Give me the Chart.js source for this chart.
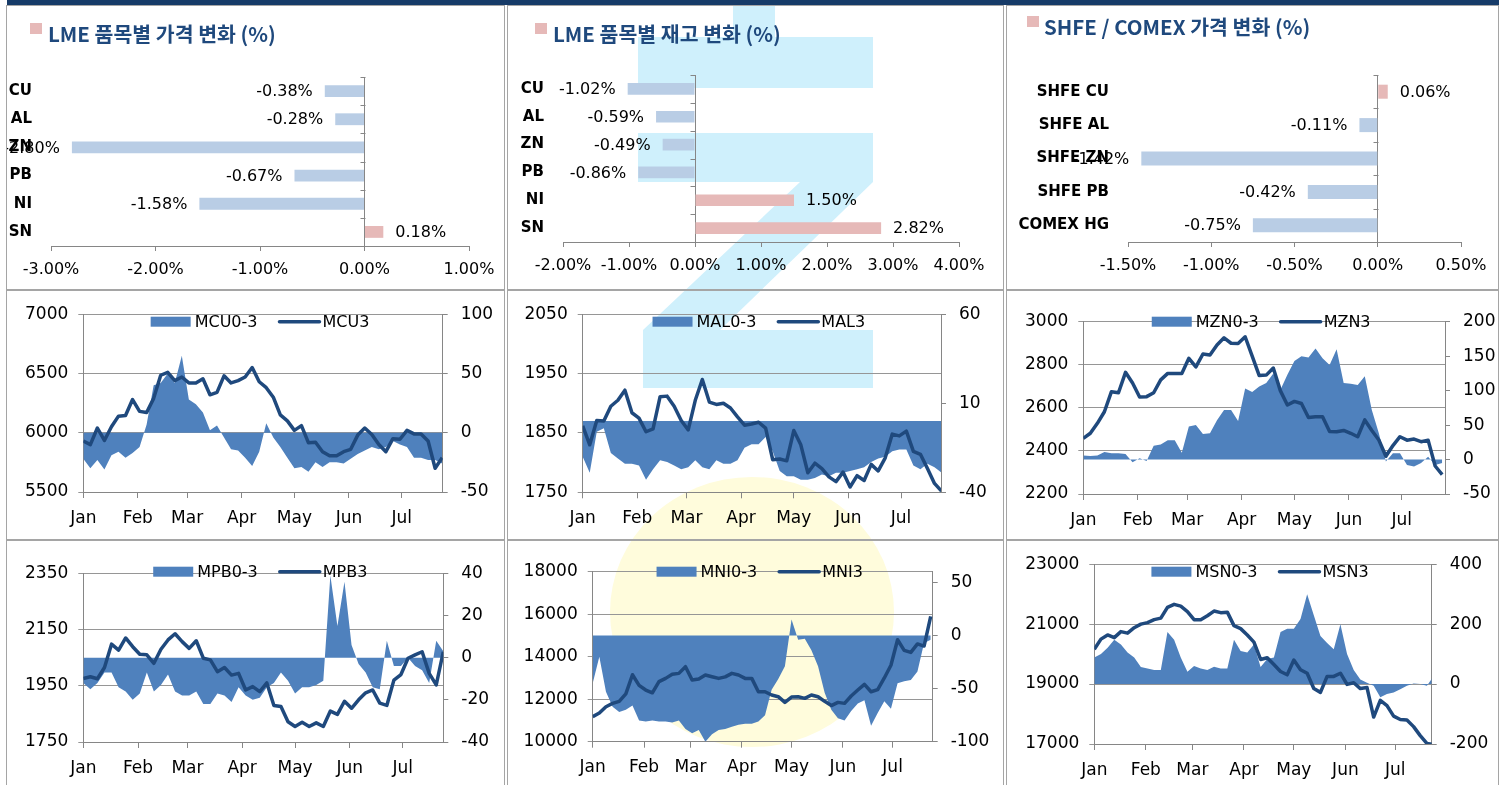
<!DOCTYPE html>
<html lang="ko">
<head>
<meta charset="utf-8">
<title>LME 품목별 동향</title>
<script src="https://cdn.jsdelivr.net/npm/chart.js@4.4.1/dist/chart.umd.min.js"></script>
<style>
  html, body { margin: 0; padding: 0; background: #fff; }
  body { width: 1504px; height: 785px; position: relative; overflow: hidden; }
  .topbar { position: absolute; left: 7px; top: 0; width: 1492px; height: 5px; background: #163b68; }
  .mark { position: absolute; background: #cff0fc; }
  .sun { position: absolute; left: 610px; top: 477px; width: 284px; height: 270px; border-radius: 50%; background: #fffcdc; }
  .panel { position: absolute; box-sizing: border-box; border: 1px solid #a5a5a5; }
  .panel canvas { position: absolute; left: 0; top: 0; }
</style>
</head>
<body>
<div class="topbar"></div>

<!-- faint logo behind the middle column -->
<div class="sun"></div>
<div class="mark" style="left:733px;top:5px;width:42px;height:32px"></div>
<div class="mark" style="left:638px;top:37px;width:235px;height:51px"></div>
<div class="mark" style="left:638px;top:133px;width:235px;height:49px"></div>
<div class="mark" style="left:643px;top:182px;width:230px;height:148px;clip-path:polygon(157px 0,230px 0,77px 148px,0 148px)"></div>
<div class="mark" style="left:643px;top:330px;width:230px;height:58px"></div>

<div class="panel" style="left:6px;top:5px;width:499px;height:285px"><canvas id="lmePrice" width="497" height="283"></canvas></div>
<div class="panel" style="left:507px;top:5px;width:497px;height:285px"><canvas id="lmeStock" width="495" height="283"></canvas></div>
<div class="panel" style="left:1006px;top:5px;width:493px;height:285px"><canvas id="shfePrice" width="491" height="283"></canvas></div>

<div class="panel" style="left:6px;top:290px;width:499px;height:250px"><canvas id="mcu" width="497" height="248"></canvas></div>
<div class="panel" style="left:507px;top:290px;width:497px;height:250px"><canvas id="mal" width="495" height="248"></canvas></div>
<div class="panel" style="left:1006px;top:290px;width:493px;height:250px"><canvas id="mzn" width="491" height="248"></canvas></div>

<div class="panel" style="left:6px;top:540px;width:499px;height:246px"><canvas id="mpb" width="497" height="244"></canvas></div>
<div class="panel" style="left:507px;top:540px;width:497px;height:246px"><canvas id="mni" width="495" height="244"></canvas></div>
<div class="panel" style="left:1006px;top:540px;width:493px;height:246px"><canvas id="msn" width="491" height="244"></canvas></div>

<script>
// ---- data ----
const metals = ['CU', 'AL', 'ZN', 'PB', 'NI', 'SN'];
const lmePriceChange = [-0.38, -0.28, -2.80, -0.67, -1.58, 0.18];
const lmeStockChange = [-1.02, -0.59, -0.49, -0.86, 1.50, 2.82];
const shfeNames = ['SHFE CU', 'SHFE AL', 'SHFE ZN', 'SHFE PB', 'COMEX HG'];
const shfeChange = [0.06, -0.11, -1.42, -0.42, -0.75];

// month axis (day of year where each month starts)
const monthStarts = [0, 31, 59, 90, 120, 151, 181];
const monthNames = ['Jan', 'Feb', 'Mar', 'Apr', 'May', 'Jun', 'Jul'];

// sample days (day of year) for the daily series
const days = [0, 4, 8, 12, 16, 20, 24, 28, 32, 36, 40, 44, 48, 52, 56, 60, 64, 68, 72, 76,
  80, 84, 88, 92, 96, 100, 104, 108, 112, 116, 120, 124, 128, 132, 136, 140, 144, 148, 152, 156,
  160, 164, 168, 172, 176, 180, 184, 188, 192, 196, 200, 204];

// 3M price (left axis) and cash-3M spread (right axis)
const mcu3 = [5930, 5900, 6040, 5935, 6050, 6140, 6145, 6280, 6180, 6170, 6290, 6485, 6510, 6440, 6470, 6420, 6420, 6455, 6320, 6340,
  6480, 6420, 6440, 6470, 6550, 6430, 6380, 6300, 6150, 6100, 6020, 6060, 5915, 5920, 5840, 5805, 5805, 5840, 5860, 5980,
  6040, 5985, 5900, 5840, 5950, 5945, 6020, 5990, 5990, 5930, 5700, 5790];
const mcuSpread = [-22, -30, -23, -31, -19, -16, -21, -17, -12, 7, 40, 42, 50, 42, 65, 28, 24, 17, 2, 6,
  -4, -14, -15, -21, -28, -16, 8, -4, -12, -21, -30, -29, -33, -25, -29, -25, -25, -26, -22, -18,
  -15, -12, -14, -12, -7, -10, -12, -21, -21, -23, -23, -26];

const mal3 = [1862, 1830, 1871, 1870, 1895, 1905, 1922, 1884, 1875, 1852, 1857, 1911, 1912, 1895, 1871, 1855, 1905, 1940, 1902, 1898,
  1900, 1892, 1877, 1863, 1865, 1868, 1858, 1805, 1806, 1803, 1854, 1830, 1783, 1799, 1790, 1776, 1768, 1784, 1759, 1778,
  1770, 1797, 1786, 1808, 1848, 1845, 1853, 1819, 1814, 1790, 1765, 1752];
const malSpread = [-20, -29, -6, -4, -18, -21, -24, -24, -25, -33, -27, -22, -23, -25, -27, -26, -22, -26, -27, -22,
  -24, -24, -22, -15, -13, -13, -9, -17, -28, -31, -31, -33, -33, -32, -30, -31, -29, -29, -28, -27,
  -26, -23, -21, -20, -17, -16, -16, -25, -27, -24, -26, -29];

const mzn3 = [2458, 2482, 2528, 2582, 2675, 2670, 2765, 2715, 2650, 2652, 2670, 2730, 2760, 2760, 2760, 2830, 2790, 2850, 2845, 2892,
  2925, 2900, 2899, 2930, 2840, 2750, 2752, 2785, 2680, 2613, 2630, 2620, 2555, 2559, 2559, 2490, 2489, 2495, 2482, 2466,
  2544, 2495, 2451, 2375, 2425, 2466, 2450, 2455, 2443, 2450, 2330, 2290];
const mznSpread = [6, 5, 6, 11, 9, 9, 8, -4, 2, -2, 20, 22, 28, 28, 10, 48, 50, 37, 38, 57,
  72, 72, 56, 103, 98, 106, 111, 125, 101, 123, 143, 150, 148, 161, 147, 137, 160, 111, 110, 108,
  121, 72, 38, -3, 9, 9, -8, -10, -5, 4, -8, -5];

const mpb3 = [1976, 1982, 1975, 2015, 2098, 2077, 2120, 2089, 2062, 2060, 2030, 2080, 2113, 2135, 2107, 2083, 2110, 2048, 2042, 2000,
  2015, 1988, 1994, 1935, 1947, 1929, 1960, 1880, 1876, 1822, 1805, 1820, 1805, 1818, 1805, 1860, 1848, 1895, 1870, 1900,
  1925, 1935, 1888, 1880, 1970, 1990, 2048, 2060, 2071, 1994, 1953, 2071];
const mpbSpread = [-12, -15, -12, -7, -7, -14, -16, -20, -17, -7, -16, -13, -8, -16, -18, -18, -16, -22, -22, -17,
  -18, -21, -14, -18, -20, -19, -14, -12, -7, -11, -17, -14, -14, -13, -11, 39, 15, 36, 6, -3,
  -7, -14, -15, 8, -4, -4, 0, -4, -6, -12, 8, 3];

const mni3 = [11176, 11350, 11647, 11804, 11900, 12250, 13150, 12650, 12431, 12300, 12824, 12980, 13170, 13216, 13530, 12902, 12950, 13137, 13059, 12980,
  13050, 13216, 13137, 12980, 12980, 12353, 12353, 12196, 12118, 11850, 12100, 12118, 12039, 12200, 12118, 11900, 11700, 11850, 11804, 12150,
  12431, 12700, 12350, 12450, 13000, 13600, 14800, 14300, 14200, 14600, 14500, 15900];
const mniSpread = [-45, -20, -53, -67, -72, -70, -66, -80, -81, -80, -81, -81, -82, -80, -88, -92, -89, -100, -93, -89,
  -88, -86, -84, -83, -83, -81, -75, -51, -41, -29, 15, -4, -3, -14, -29, -54, -70, -78, -80, -71,
  -64, -61, -85, -73, -62, -69, -45, -43, -42, -34, -7, -4];

const msn3 = [20160, 20500, 20640, 20550, 20750, 20700, 20880, 21000, 21050, 21150, 21200, 21560, 21660, 21600, 21420, 21150, 21150, 21280, 21436, 21383,
  21400, 20950, 20850, 20638, 20400, 19820, 19880, 19650, 19420, 19309, 19800, 19480, 19362, 18850, 18723, 19255, 19255, 19362, 18989, 19043,
  18850, 18883, 17900, 18457, 18280, 17930, 17819, 17800, 17580, 17280, 17020, 16980];
const msnSpread = [89, 100, 121, 148, 132, 105, 89, 57, 52, 47, 47, 174, 148, 89, 41, 60, 52, 47, 58, 52,
  52, 148, 110, 105, 132, 57, 84, 89, 174, 185, 185, 217, 300, 230, 160, 137, 116, 200, 100, 47,
  15, 4, -6, -44, -33, -28, -17, -6, 2, 0, -6, 26];

// ---- styles ----
const GRID = '#969696';
const AXIS = '#868686';
const AREA = '#4f81bd';
const LINE = '#1f497d';
const NEG = '#b9cde5';
const POS = '#e6b9b8';
const TITLE_BLUE = '#1f497d';

Chart.defaults.font.family = "'DejaVu Sans', sans-serif";
Chart.defaults.color = '#000';

// bar end labels, zero-line ticks and the caption with its marker
function barExtras(origin, caption) {
  return {
    id: 'barExtras',
    afterDatasetsDraw(chart) {
      const c = chart.ctx;
      const xs = chart.scales.x;
      const ys = chart.scales.y;
      const vals = chart.data.datasets[0].data;
      c.save();

      const x0 = Math.round(xs.getPixelForValue(0)) + 0.5;
      c.strokeStyle = AXIS;
      c.lineWidth = 1;
      for (let i = 0; i <= vals.length; i++) {
        const y = Math.round(ys.getPixelForValue(i - 0.5)) + 0.5;
        c.beginPath();
        c.moveTo(x0 - 5, y);
        c.lineTo(x0, y);
        c.stroke();
      }

      c.font = "16px 'DejaVu Sans'";
      c.fillStyle = '#000';
      c.textBaseline = 'middle';
      chart.getDatasetMeta(0).data.forEach((bar, i) => {
        const txt = vals[i].toFixed(2) + '%';
        if (vals[i] < 0) {
          c.textAlign = 'right';
          c.fillText(txt, bar.x - 12, bar.y + 1);
        } else {
          c.textAlign = 'left';
          c.fillText(txt, bar.x + 12, bar.y + 1);
        }
      });

      c.fillStyle = POS;
      c.fillRect(caption.box[0] - origin.x, caption.box[1] - origin.y, caption.box[2], caption.box[3]);
      c.font = "bold 20.5px 'Noto Sans CJK KR'";
      c.fillStyle = TITLE_BLUE;
      c.textAlign = 'left';
      c.fillText(chart.data.datasets[0].label, caption.tx - origin.x, caption.ty - origin.y);
      c.restore();
    }
  };
}

function barChart(id, box, plot, labels, values, range, caption) {
  const ctx = document.getElementById(id).getContext('2d');
  return new Chart(ctx, {
    type: 'bar',
    data: {
      labels: labels,
      datasets: [{
        label: caption.text,
        data: values,
        backgroundColor: values.map(v => v < 0 ? NEG : POS),
        barPercentage: 0.42,
        categoryPercentage: 1
      }]
    },
    options: {
      indexAxis: 'y',
      responsive: false,
      animation: false,
      layout: {
        padding: { left: 0, top: plot.t - box.y, right: box.x + box.w - plot.r, bottom: box.y + box.h - plot.b - 40 }
      },
      plugins: { legend: { display: false }, tooltip: { enabled: false } },
      scales: {
        x: {
          min: range[0],
          max: range[1],
          afterFit: s => { s.height = 40; },
          ticks: {
            stepSize: range[2],
            callback: v => v.toFixed(2) + '%',
            padding: 9,
            font: { size: 16 },
            maxRotation: 0,
            autoSkip: false
          },
          grid: {
            color: c => (c.tick && Math.abs(c.tick.value) < 1e-9) ? AXIS : 'rgba(0,0,0,0)',
            tickColor: AXIS,
            tickLength: 5
          },
          border: { color: AXIS }
        },
        y: {
          afterFit: s => { s.width = plot.l - box.x; },
          ticks: { padding: 19, font: { size: 15, weight: 'bold' } },
          grid: { display: false, drawTicks: false },
          border: { display: false }
        }
      }
    },
    plugins: [barExtras(box, caption)]
  });
}

// legend drawn inside the plot, like the spreadsheet one
function seriesLegend(legendY) {
  return {
    id: 'seriesLegend',
    afterDraw(chart) {
      const c = chart.ctx;
      const ca = chart.chartArea;
      const lineSet = chart.data.datasets[0];
      const areaSet = chart.data.datasets[1];
      c.save();
      c.font = "16px 'DejaVu Sans'";
      c.textBaseline = 'middle';
      c.textAlign = 'left';
      const w1 = 40 + 4 + c.measureText(areaSet.label).width;
      const w2 = 44 + 1 + c.measureText(lineSet.label).width;
      let x = (ca.left + ca.right) / 2 - 3 - (w1 + 20 + w2) / 2;
      c.fillStyle = AREA;
      c.fillRect(x, legendY - 5, 40, 10);
      c.fillStyle = '#000';
      c.fillText(areaSet.label, x + 44, legendY + 1);
      x += w1 + 20;
      c.strokeStyle = LINE;
      c.lineWidth = 3.5;
      c.lineCap = 'round';
      c.beginPath();
      c.moveTo(x + 2, legendY);
      c.lineTo(x + 42, legendY);
      c.stroke();
      c.fillText(lineSet.label, x + 45, legendY + 1);
      c.restore();
    }
  };
}

function seriesChart(id, box, plot, names, line, spread, left, right, xMax) {
  const ctx = document.getElementById(id).getContext('2d');
  return new Chart(ctx, {
    type: 'line',
    data: {
      datasets: [{
        label: names[1],
        data: days.map((d, i) => ({ x: d, y: line[i] })),
        yAxisID: 'y',
        borderColor: LINE,
        borderWidth: 3.5,
        borderJoinStyle: 'round',
        pointRadius: 0,
        tension: 0,
        fill: false,
        order: 1
      }, {
        label: names[0],
        data: days.map((d, i) => ({ x: d, y: spread[i] })),
        yAxisID: 'y1',
        backgroundColor: AREA,
        borderWidth: 0,
        pointRadius: 0,
        tension: 0,
        fill: 'origin',
        order: 2
      }]
    },
    options: {
      responsive: false,
      animation: false,
      layout: {
        padding: { left: 0, right: 0, top: plot.t - box.y, bottom: box.y + box.h - plot.b - 40 }
      },
      plugins: { legend: { display: false }, tooltip: { enabled: false } },
      scales: {
        x: {
          type: 'linear',
          min: 0,
          max: xMax,
          afterFit: s => { s.height = 40; },
          afterBuildTicks: s => { s.ticks = monthStarts.map(v => ({ value: v })); },
          ticks: {
            callback: v => monthNames[monthStarts.indexOf(v)],
            padding: 10,
            font: { size: 17 },
            maxRotation: 0,
            autoSkip: false
          },
          grid: { drawOnChartArea: false, color: AXIS, tickLength: 6 },
          border: { color: AXIS }
        },
        y: {
          position: 'left',
          min: left[0],
          max: left[1],
          afterFit: s => { s.width = plot.l - box.x; },
          ticks: { stepSize: left[2], padding: 10, font: { size: 17 }, callback: v => String(v) },
          grid: { color: GRID, tickLength: 5 },
          border: { color: AXIS }
        },
        y1: {
          position: 'right',
          min: right[0],
          max: right[1],
          afterFit: s => { s.width = box.x + box.w - plot.r; },
          ticks: { stepSize: right[2], includeBounds: false, padding: 13, font: { size: 17 }, callback: v => String(v) },
          grid: { drawOnChartArea: false, color: AXIS, tickLength: 5 },
          border: { color: AXIS }
        }
      }
    },
    plugins: [seriesLegend(30.7)]
  });
}

// ---- top row: % change bars ----
barChart('lmePrice', { x: 7, y: 6, w: 497, h: 283 }, { l: 51, r: 469, t: 77, b: 246 },
  metals, lmePriceChange, [-3, 1, 1],
  { text: 'LME 품목별 가격 변화 (%)', box: [30, 23, 12, 11], tx: 48, ty: 34 });

barChart('lmeStock', { x: 508, y: 6, w: 495, h: 283 }, { l: 563, r: 959, t: 75, b: 242 },
  metals, lmeStockChange, [-2, 4, 1],
  { text: 'LME 품목별 재고 변화 (%)', box: [535, 23, 12, 11], tx: 553, ty: 34 });

barChart('shfePrice', { x: 1007, y: 6, w: 491, h: 283 }, { l: 1128, r: 1461, t: 75, b: 242 },
  shfeNames, shfeChange, [-1.5, 0.5, 0.5],
  { text: 'SHFE / COMEX 가격 변화 (%)', box: [1027, 16, 12, 11], tx: 1044, ty: 27 });

// ---- price vs spread ----
seriesChart('mcu', { x: 7, y: 291, w: 497, h: 248 }, { l: 83.3, r: 442.7, t: 310.7, b: 492 },
  ['MCU0-3', 'MCU3'], mcu3, mcuSpread, [5500, 7000, 500], [-50, 100, 50], 204.3);

seriesChart('mal', { x: 508, y: 291, w: 495, h: 248 }, { l: 582.7, r: 941, t: 308.3, b: 492.3 },
  ['MAL0-3', 'MAL3'], mal3, malSpread, [1750, 2050, 100], [-40, 60, 50], 203.7);

seriesChart('mzn', { x: 1007, y: 291, w: 491, h: 248 }, { l: 1083.3, r: 1445, t: 321.7, b: 494 },
  ['MZN0-3', 'MZN3'], mzn3, mznSpread, [2200, 3000, 200], [-50, 200, 50], 205.6);

seriesChart('mpb', { x: 7, y: 541, w: 497, h: 244 }, { l: 83.3, r: 443.3, t: 573.3, b: 742 },
  ['MPB0-3', 'MPB3'], mpb3, mpbSpread, [1750, 2350, 200], [-40, 40, 20], 204);

seriesChart('mni', { x: 508, y: 541, w: 495, h: 244 }, { l: 592.7, r: 932.7, t: 571.7, b: 741.7 },
  ['MNI0-3', 'MNI3'], mni3, mniSpread, [10000, 18000, 2000], [-100, 60, 50], 205.2);

seriesChart('msn', { x: 1007, y: 541, w: 491, h: 244 }, { l: 1094.3, r: 1431.7, t: 556, b: 744 },
  ['MSN0-3', 'MSN3'], msn3, msnSpread, [17000, 23000, 2000], [-200, 400, 200], 202.9);
</script>
</body>
</html>
